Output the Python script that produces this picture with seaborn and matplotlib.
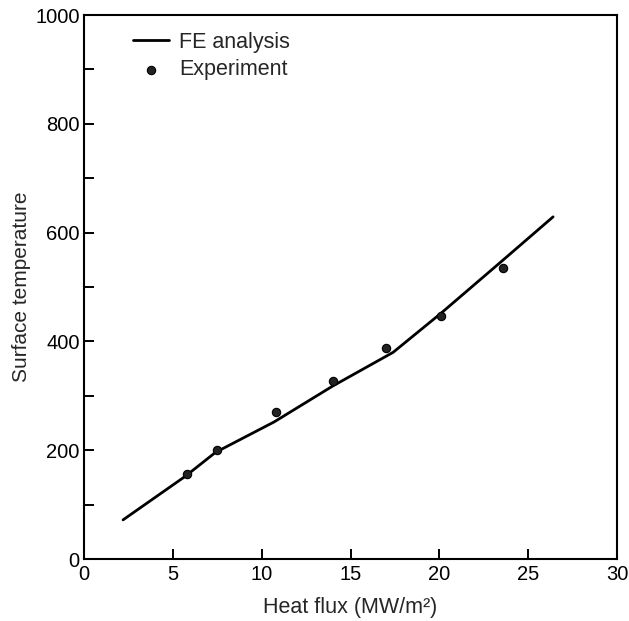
import matplotlib
matplotlib.use("Agg")
import matplotlib.pyplot as plt
import seaborn as sns
import numpy as np
from matplotlib.ticker import MultipleLocator

sns.set_style("ticks")
plt.rcParams['font.family'] = ['Liberation Sans', 'DejaVu Sans']

# FE analysis curve
fe_flux = [2.2, 5.7, 7.4, 10.7, 14.0, 17.4, 20.1, 23.6, 26.4]
fe_temp = [72, 152, 196, 252, 318, 380, 452, 550, 629]

# Experiment points
exp_flux = [5.8, 7.5, 10.8, 14.0, 17.0, 20.1, 23.6]
exp_temp = [156, 200, 271, 328, 387, 447, 535]

fig = plt.figure(figsize=(6.29, 6.21), dpi=100)
ax = fig.add_axes([0.1335, 0.0998, 0.8475, 0.876])

sns.lineplot(x=fe_flux, y=fe_temp, ax=ax, color='black', linewidth=2.0,
             label='FE analysis', sort=False)
sns.scatterplot(x=exp_flux, y=exp_temp, ax=ax, color='#222222', s=36,
                edgecolor='black', linewidth=0.8, label='Experiment', zorder=3)

ax.set_xlim(0, 30)
ax.set_ylim(0, 1000)
ax.set_xticks([0, 5, 10, 15, 20, 25, 30])
ax.set_yticks([0, 200, 400, 600, 800, 1000])
ax.yaxis.set_minor_locator(MultipleLocator(100))
ax.tick_params(axis='both', which='both', direction='in', length=7, width=1.4,
               labelsize=14.5, colors='black')
ax.tick_params(axis='x', which='major', pad=4)
ax.tick_params(axis='y', which='major', pad=3)
for s in ax.spines.values():
    s.set_linewidth(1.5)
    s.set_color('black')

ax.set_xlabel('Heat flux (MW/m²)', fontsize=15.5, labelpad=10)
ax.set_ylabel('Surface temperature', fontsize=15, labelpad=3)

leg = ax.legend(loc='upper left', bbox_to_anchor=(0.075, 0.985), frameon=False,
                fontsize=15.5, handlelength=1.7, handletextpad=0.45,
                labelspacing=0.3, borderaxespad=0)

fig.savefig('out.png', dpi=100)
